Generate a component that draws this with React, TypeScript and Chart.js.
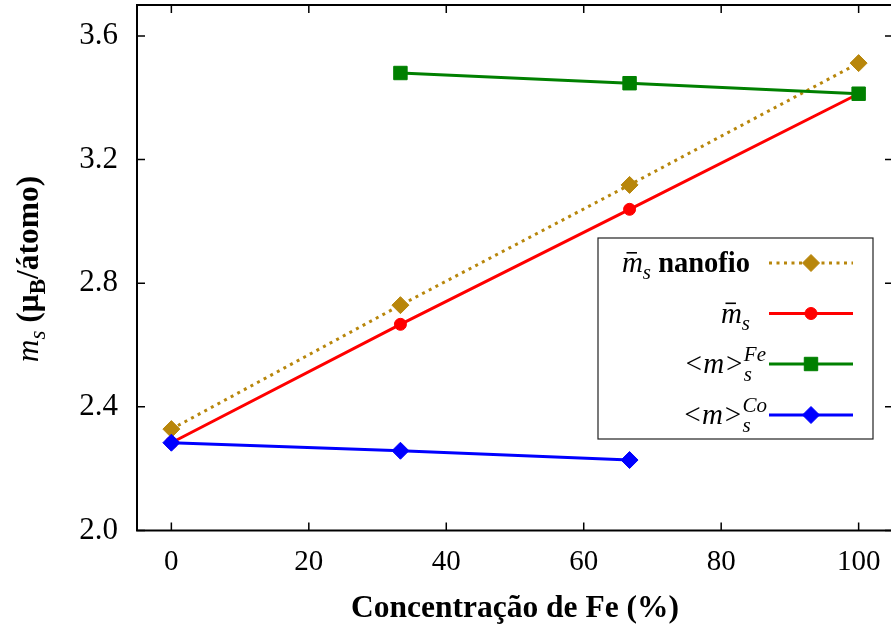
import React, { useEffect, useRef } from "react";
import { Chart, registerables } from "chart.js";
import { drawPoint } from "chart.js/helpers";

Chart.register(...registerables);

// ---- data ----
const concentrations = [0, 33.33, 66.67, 100];
const nanofioValues = [2.328, 2.729, 3.118, 3.512];
const meanValues = [2.284, 2.667, 3.039, 3.413];
const feValues: (number | null)[] = [null, 3.48, 3.447, 3.413];
const coValues: (number | null)[] = [2.284, 2.258, 2.228, null];
const xTickValues = [0, 20, 40, 60, 80, 100];
const yTickValues = [2.0, 2.4, 2.8, 3.2, 3.6];

const SERIF = '"Liberation Serif", "Times New Roman", serif';
const GOLD = "#b8860b";
const RED = "#ff0000";
const GREEN = "#008000";
const BLUE = "#0000ff";

const toPoints = (vals: (number | null)[]) =>
  concentrations
    .map((x, i) => ({ x, y: vals[i] }))
    .filter((p) => p.y !== null) as { x: number; y: number }[];

type Part = { text: string; font: string; dy?: number; overline?: boolean };
type Run = Part[]; // parts stacked at the same x

function runWidth(ctx: CanvasRenderingContext2D, run: Run) {
  let w = 0;
  for (const p of run) {
    ctx.font = p.font;
    w = Math.max(w, ctx.measureText(p.text).width);
  }
  return w;
}

function drawRuns(
  ctx: CanvasRenderingContext2D,
  runs: Run[],
  x: number,
  y: number,
  align: "left" | "right" | "center"
) {
  const widths = runs.map((r) => runWidth(ctx, r));
  const total = widths.reduce((a, b) => a + b, 0);
  let cx = align === "left" ? x : align === "right" ? x - total : x - total / 2;
  ctx.textAlign = "left";
  ctx.textBaseline = "alphabetic";
  runs.forEach((run, i) => {
    for (const p of run) {
      ctx.font = p.font;
      ctx.fillText(p.text, cx, y + (p.dy || 0));
      if (p.overline) {
        const w = ctx.measureText(p.text).width;
        ctx.fillRect(cx + w * 0.22, y - 20, w * 0.5, 1.6);
      }
    }
    cx += widths[i];
  });
}

const it = (s: number) => `italic ${s}px ${SERIF}`;
const bd = (s: number) => `bold ${s}px ${SERIF}`;

const framePlugin = {
  id: "frame",
  beforeDatasetsDraw(chart: any) {
    const { ctx, chartArea: a, scales } = chart;
    ctx.save();
    ctx.strokeStyle = "#000";
    ctx.lineWidth = 1.5;
    const tl = 8;
    for (const v of xTickValues) {
      const px = scales.x.getPixelForValue(v);
      ctx.beginPath();
      ctx.moveTo(px, a.bottom);
      ctx.lineTo(px, a.bottom - tl);
      ctx.moveTo(px, a.top);
      ctx.lineTo(px, a.top + tl);
      ctx.stroke();
    }
    for (const v of yTickValues) {
      const py = scales.y.getPixelForValue(v);
      ctx.beginPath();
      ctx.moveTo(a.left, py);
      ctx.lineTo(a.left + tl, py);
      ctx.moveTo(a.right, py);
      ctx.lineTo(a.right - tl, py);
      ctx.stroke();
    }
    ctx.lineWidth = 2;
    ctx.strokeRect(a.left, a.top, a.right - a.left, a.bottom - a.top);
    ctx.restore();
  },
  afterDraw(chart: any) {
    const { ctx } = chart;
    ctx.save();
    ctx.fillStyle = "#000";

    // x axis title
    ctx.font = bd(31.5);
    ctx.textAlign = "center";
    ctx.textBaseline = "alphabetic";
    ctx.fillText("Concentração de Fe (%)", 515, 617);

    // y axis title
    ctx.save();
    ctx.translate(38, 269);
    ctx.rotate(-Math.PI / 2);
    drawRuns(
      ctx,
      [
        [{ text: "m", font: it(31.5) }],
        [{ text: "s", font: it(23), dy: 7 }],
        [{ text: " (\u03bc", font: bd(31.5) }],
        [{ text: "B", font: bd(23), dy: 7 }],
        [{ text: "/átomo)", font: bd(31.5) }],
      ],
      0,
      0,
      "center"
    );
    ctx.restore();

    // legend
    const box = { l: 598, t: 238, r: 873, b: 439 };
    ctx.fillStyle = "#fff";
    ctx.fillRect(box.l, box.t, box.r - box.l, box.b - box.t);
    ctx.strokeStyle = "#222";
    ctx.lineWidth = 1.2;
    ctx.strokeRect(box.l, box.t, box.r - box.l, box.b - box.t);

    const rows = [
      {
        y: 263,
        right: 750,
        color: GOLD,
        dash: [3, 4.5],
        style: "rectRot",
        radius: 8.5,
        runs: [
          [{ text: "m", font: it(29) }],
          [{ text: "s", font: it(21), dy: 7 }],
          [{ text: " nanofio", font: bd(28.5) }],
        ] as Run[],
        over: true,
      },
      {
        y: 313.5,
        right: 750,
        color: RED,
        dash: [],
        style: "circle",
        radius: 6,
        runs: [
          [{ text: "m", font: it(29), overline: true }],
          [{ text: "s", font: it(21), dy: 7 }],
        ] as Run[],
      },
      {
        y: 364,
        right: 766,
        color: GREEN,
        dash: [],
        style: "rect",
        radius: 9.5,
        runs: [
          [{ text: "<m>", font: it(29) }],
          [
            { text: "s", font: it(21), dy: 8 },
            { text: "Fe", font: it(21), dy: -12 },
          ],
        ] as Run[],
      },
      {
        y: 415,
        right: 767,
        color: BLUE,
        dash: [],
        style: "rectRot",
        radius: 8.5,
        runs: [
          [{ text: "<m>", font: it(29) }],
          [
            { text: "s", font: it(21), dy: 8 },
            { text: "Co", font: it(21), dy: -12 },
          ],
        ] as Run[],
      },
    ];
    rows[0].runs[0][0].overline = true;
    for (const row of rows) {
      ctx.fillStyle = "#000";
      drawRuns(ctx, row.runs, row.right, row.y + 9, "right");
      ctx.strokeStyle = row.color;
      ctx.lineWidth = 3;
      ctx.setLineDash(row.dash);
      ctx.beginPath();
      ctx.moveTo(769, row.y);
      ctx.lineTo(853, row.y);
      ctx.stroke();
      ctx.setLineDash([]);
      ctx.fillStyle = row.color;
      ctx.strokeStyle = row.color;
      ctx.lineWidth = 1;
      drawPoint(
        ctx,
        { pointStyle: row.style as any, radius: row.radius, rotation: 0, borderWidth: 1 },
        811,
        row.y
      );
    }
    ctx.restore();
  },
};

export default function App() {
  const ref = useRef<HTMLCanvasElement | null>(null);

  useEffect(() => {
    if (!ref.current) return;
    const chart = new Chart(ref.current, {
      type: "line",
      data: {
        datasets: [
          {
            label: "<m>_s^Co",
            data: toPoints(coValues),
            borderColor: BLUE,
            backgroundColor: BLUE,
            borderWidth: 3,
            pointStyle: "rectRot",
            pointRadius: 8.5,
            pointBorderWidth: 1,
          },
          {
            label: "<m>_s^Fe",
            data: toPoints(feValues),
            borderColor: GREEN,
            backgroundColor: GREEN,
            borderWidth: 3,
            pointStyle: "rect",
            pointRadius: 9.5,
            pointBorderWidth: 1,
          },
          {
            label: "m_s",
            data: toPoints(meanValues),
            borderColor: RED,
            backgroundColor: RED,
            borderWidth: 3,
            pointStyle: "circle",
            pointRadius: 6,
            pointBorderWidth: 1,
          },
          {
            label: "m_s nanofio",
            data: toPoints(nanofioValues),
            borderColor: GOLD,
            backgroundColor: GOLD,
            borderWidth: 3,
            borderDash: [3, 4.5],
            pointStyle: "rectRot",
            pointRadius: 8.5,
            pointBorderWidth: 1,
          },
        ],
      },
      options: {
        animation: false,
        responsive: false,
        maintainAspectRatio: false,
        layout: { autoPadding: false, padding: { top: 5, right: 0, left: 0, bottom: 0 } },
        plugins: { legend: { display: false }, tooltip: { enabled: false } },
        scales: {
          x: {
            type: "linear",
            min: -5,
            max: 105,
            afterBuildTicks: (s: any) => {
              s.ticks = xTickValues.map((v) => ({ value: v }));
            },
            afterFit: (s: any) => {
              s.height = 99.5;
              s.paddingLeft = 0;
              s.paddingRight = 0;
            },
            grid: { display: false, drawTicks: false },
            border: { display: false },
            ticks: {
              font: { family: SERIF, size: 29 },
              color: "#000",
              padding: 14,
              maxRotation: 0,
              autoSkip: false,
            },
          },
          y: {
            type: "linear",
            min: 2.0,
            max: 3.7,
            afterBuildTicks: (s: any) => {
              s.ticks = yTickValues.map((v) => ({ value: v }));
            },
            afterFit: (s: any) => {
              s.width = 137;
              s.paddingTop = 0;
              s.paddingBottom = 0;
            },
            grid: { display: false, drawTicks: false },
            border: { display: false },
            ticks: {
              font: { family: SERIF, size: 31 },
              color: "#000",
              padding: 19,
              autoSkip: false,
              callback: (v: any) => Number(v).toFixed(1),
            },
          },
        },
      },
      plugins: [framePlugin],
    });
    return () => chart.destroy();
  }, []);

  return (
    <div
      style={{
        position: "fixed",
        left: 0,
        top: 0,
        width: 891,
        height: 630,
        overflow: "hidden",
        background: "#fff",
      }}
    >
      <canvas ref={ref} width={893} height={630} style={{ display: "block", width: 893, height: 630 }} />
    </div>
  );
}
